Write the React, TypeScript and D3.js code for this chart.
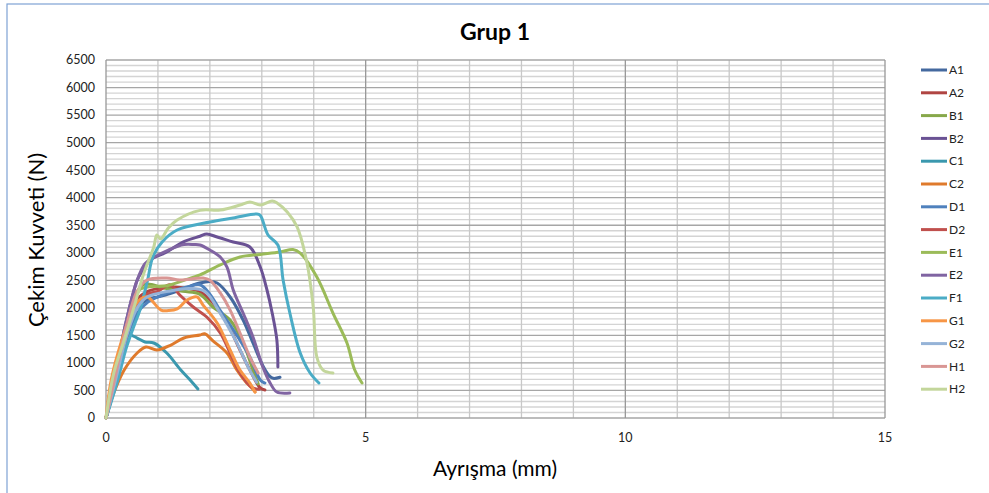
import React from "react";
import * as d3 from "d3";

type Pt = [number, number];

const seriesNames = ["A1","A2","B1","B2","C1","C2","D1","D2","E1","E2","F1","G1","G2","H1","H2"];
const seriesColors = ["#44699f","#b04542","#87a84a","#6a5294","#3a98ae","#df7a2c","#4f81bd","#c0504d","#9bbb59","#8064a2","#4bacc6","#f79646","#95b3d7","#d99694","#c3d69b"];

const A1: Pt[] = [[0,0],[0.15,500],[0.3,1100],[0.45,1650],[0.6,2000],[0.8,2150],[1.0,2200],[1.2,2250],[1.5,2350],[1.8,2450],[2.0,2480],[2.14,2450],[2.39,2197],[2.64,1779],[2.83,1362],[3.02,950],[3.15,760],[3.22,720],[3.35,740]];
const A2: Pt[] = [[0,0],[0.2,800],[0.4,1600],[0.6,2150],[0.8,2300],[1.0,2350],[1.3,2380],[1.6,2350],[1.8,2300],[2.06,2088],[2.33,1725],[2.58,1235],[2.77,871],[2.97,545],[3.06,508]];
const B1: Pt[] = [[0,0],[0.2,850],[0.4,1650],[0.6,2250],[0.71,2420],[0.9,2420],[1.04,2378],[1.48,2300],[1.8,2250],[2.06,2015],[2.39,1779],[2.64,1362],[2.83,871],[2.93,620]];
const B2: Pt[] = [[0,0],[0.2,900],[0.4,1800],[0.6,2500],[0.71,2687],[0.85,2868],[1.17,3014],[1.48,3195],[1.81,3300],[1.94,3340],[2.14,3286],[2.45,3195],[2.77,3105],[2.97,2741],[3.1,2324],[3.2,1906],[3.29,1416],[3.31,926]];
const C1: Pt[] = [[0,0],[0.1,500],[0.2,1000],[0.3,1300],[0.44,1507],[0.6,1452],[0.75,1380],[0.92,1362],[1.17,1180],[1.44,871],[1.62,690],[1.77,526]];
const C2: Pt[] = [[0,0],[0.15,454],[0.35,871],[0.6,1180],[0.77,1289],[0.98,1235],[1.25,1325],[1.5,1452],[1.81,1507],[1.9,1530],[2.06,1400],[2.33,1180],[2.52,871],[2.71,635],[2.81,545],[2.87,472]];
const D1: Pt[] = [[0,0],[0.2,700],[0.4,1450],[0.6,1900],[0.8,2100],[1.0,2200],[1.17,2270],[1.56,2378],[1.81,2420],[2.0,2250],[2.2,1950],[2.45,1600],[2.77,1107],[2.97,690],[3.06,635]];
const D2: Pt[] = [[0,0],[0.2,750],[0.4,1500],[0.6,2050],[0.8,2250],[1.0,2300],[1.23,2420],[1.42,2233],[1.68,2015],[1.94,1834],[2.2,1543],[2.39,1180],[2.58,817],[2.8,560],[2.95,520]];
const E1: Pt[] = [[0,0],[0.2,850],[0.4,1700],[0.6,2300],[0.8,2380],[1.17,2400],[1.5,2500],[1.81,2600],[2.2,2780],[2.58,2923],[2.97,2970],[3.35,3014],[3.6,3060],[3.74,2995],[4.06,2560],[4.37,1906],[4.64,1362],[4.79,871],[4.93,635]];
const E2: Pt[] = [[0,0],[0.2,900],[0.4,1800],[0.6,2500],[0.75,2800],[0.9,2905],[1.2,3050],[1.5,3150],[1.7,3150],[1.81,3141],[2.0,3050],[2.2,2923],[2.33,2741],[2.45,2324],[2.64,1906],[2.83,1470],[3.02,926],[3.16,635],[3.29,472],[3.54,454]];
const F1: Pt[] = [[0,0],[0.2,600],[0.4,1300],[0.55,1700],[0.65,1950],[0.8,2500],[0.9,2920],[1.08,3195],[1.37,3413],[2.0,3558],[2.45,3631],[2.9,3704],[2.97,3680],[3.12,3322],[3.31,3141],[3.41,2505],[3.54,1906],[3.74,1180],[3.93,817],[4.1,635]];
const G1: Pt[] = [[0,0],[0.1,690],[0.3,1400],[0.54,2015],[0.65,2150],[0.79,2200],[1.06,1960],[1.2,1950],[1.37,1980],[1.56,2142],[1.75,2200],[1.87,2050],[2.14,1725],[2.39,1235],[2.58,871],[2.77,635],[2.87,472]];
const G2: Pt[] = [[0,0],[0.2,750],[0.4,1500],[0.6,2000],[0.8,2200],[1.2,2300],[1.6,2350],[1.9,2300],[2.2,1900],[2.5,1400],[2.75,900],[2.9,650]];
const H1: Pt[] = [[0,0],[0.2,850],[0.4,1700],[0.6,2300],[0.79,2505],[1.17,2541],[1.42,2505],[1.87,2541],[2.0,2500],[2.2,2270],[2.39,1960],[2.58,1543],[2.77,1107],[2.9,871],[2.93,817]];
const H2: Pt[] = [[0,0],[0.15,817],[0.35,1416],[0.54,2015],[0.73,2632],[0.92,3105],[0.98,3323],[1.05,3250],[1.2,3450],[1.37,3595],[1.81,3770],[2.2,3776],[2.58,3867],[2.77,3922],[2.97,3867],[3.2,3940],[3.3,3900],[3.49,3740],[3.68,3468],[3.87,2814],[3.99,2015],[4.06,1107],[4.18,871],[4.37,817]];

const seriesData: Pt[][] = [A1,A2,B1,B2,C1,C2,D1,D2,E1,E2,F1,G1,G2,H1,H2];

const xTicks = [0, 5, 10, 15];
const yTicks = d3.range(0, 6501, 500);

const W = 989, H = 493;
const FONT = "Lato, 'Open Sans', 'Liberation Sans', sans-serif";

export default function App() {
  const x = d3.scaleLinear().domain([0, 15]).range([106, 885]);
  const y = d3.scaleLinear().domain([0, 6500]).range([418, 60]);
  const line = d3.line<Pt>().x(d => x(d[0])).y(d => y(d[1])).curve(d3.curveCatmullRom.alpha(0.5));

  const minorY = d3.range(0, 6501, 100).filter(v => v % 500 !== 0);
  const minorX = d3.range(0, 16, 1).filter(v => v % 5 !== 0);

  return (
    <svg width={W} height={H} style={{ position: "absolute", left: 0, top: 0, background: "#fff" }} fontFamily={FONT}>
      <rect x={7} y={4} width={W + 10} height={H + 10} fill="#fff" stroke="#7fa2d4" strokeWidth={1.2} />
      <text x={495} y={40} textAnchor="middle" fontSize={23} fontWeight="bold" fill="#000">Grup 1</text>
      {minorY.map(v => (
        <line key={"my" + v} x1={x(0)} x2={x(15)} y1={y(v)} y2={y(v)} stroke="#d4d4d4" strokeWidth={1.3} />
      ))}
      {minorX.map(v => (
        <line key={"mx" + v} x1={x(v)} x2={x(v)} y1={y(0)} y2={y(6500)} stroke="#c8c8c8" strokeWidth={1.3} />
      ))}
      {yTicks.map(v => (
        <line key={"Y" + v} x1={x(0)} x2={x(15)} y1={y(v)} y2={y(v)} stroke="#a6a6a6" strokeWidth={1.3} />
      ))}
      {xTicks.map(v => (
        <line key={"X" + v} x1={x(v)} x2={x(v)} y1={y(0)} y2={y(6500)} stroke="#989898" strokeWidth={1.3} />
      ))}
      {yTicks.map(v => (
        <text key={"yl" + v} x={95} y={y(v)} dy="0.35em" textAnchor="end" fontSize={12.5} fill="#222">{v}</text>
      ))}
      {xTicks.map(v => (
        <text key={"xl" + v} x={x(v)} y={442} textAnchor="middle" fontSize={12.5} fill="#222">{v}</text>
      ))}
      {seriesData.map((s, i) => (
        <path key={seriesNames[i]} d={line(s) || ""} fill="none" stroke={seriesColors[i]} strokeWidth={3} strokeLinejoin="round" strokeLinecap="round" />
      ))}
      <text x={495} y={476} textAnchor="middle" fontSize={21} fill="#000">Ayrışma (mm)</text>
      <text transform="translate(44,240) rotate(-90)" textAnchor="middle" fontSize={22} fill="#000">Çekim Kuvveti (N)</text>
      {seriesNames.map((n, i) => {
        const ly = 70 + i * 22.8;
        return (
          <g key={"lg" + n}>
            <line x1={921} x2={947} y1={ly} y2={ly} stroke={seriesColors[i]} strokeWidth={3} />
            <text x={949} y={ly} dy="0.35em" fontSize={12} fill="#222">{n}</text>
          </g>
        );
      })}
    </svg>
  );
}
